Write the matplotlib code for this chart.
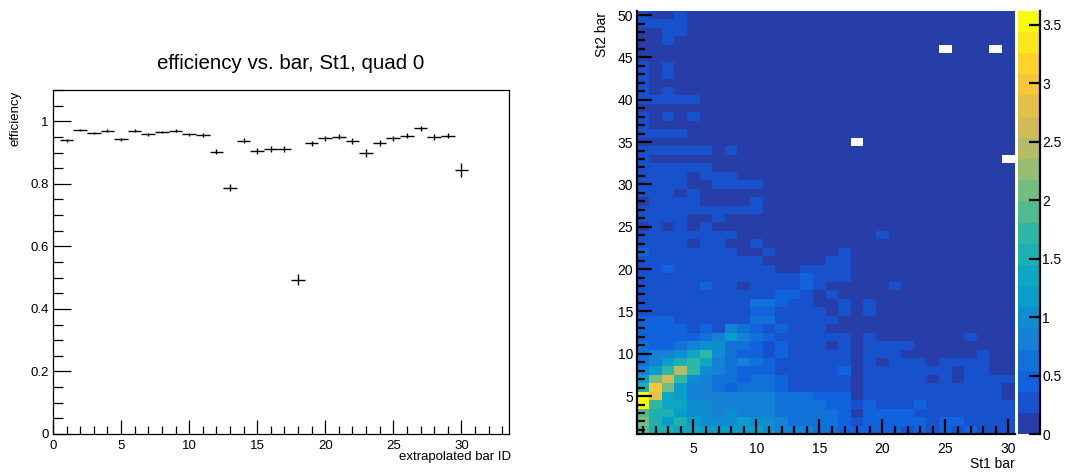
import numpy as np
import matplotlib
matplotlib.use("Agg")
import matplotlib.pyplot as plt
from matplotlib.colors import LinearSegmentedColormap, ListedColormap, BoundaryNorm
from matplotlib.ticker import MultipleLocator, FixedLocator
from matplotlib.lines import Line2D

plt.rcParams['font.family'] = ['Liberation Sans', 'DejaVu Sans']

# ---------------- left panel: efficiency vs bar ----------------
bar_ids = list(range(1, 31))
efficiency = [0.939, 0.972, 0.963, 0.970, 0.942, 0.970, 0.958, 0.965, 0.970, 0.958,
              0.956, 0.903, 0.787, 0.937, 0.904, 0.911, 0.912, 0.494, 0.929, 0.945,
              0.950, 0.936, 0.899, 0.931, 0.945, 0.954, 0.977, 0.950, 0.954, 0.844]
eff_err = [0.005, 0.004, 0.004, 0.004, 0.005, 0.004, 0.005, 0.004, 0.004, 0.005,
           0.005, 0.008, 0.011, 0.008, 0.009, 0.009, 0.009, 0.019, 0.009, 0.008,
           0.008, 0.009, 0.013, 0.009, 0.009, 0.009, 0.008, 0.009, 0.009, 0.021]
bar_halfwidth = [0.5] * 30

# ---------------- right panel: St2 bar vs St1 bar ----------------
st1_bins = list(range(1, 31))
st2_bins = list(range(1, 51))
z_max = 3.62
color_ticks = [0, 0.5, 1, 1.5, 2, 2.5, 3, 3.5]

# rows listed from St2 bar = 1 (bottom) to 50 (top); 30 St1 bars each; 0 = empty bin
occupancy = [
    [1.90, 1.54, 1.54, 1.36, 1.36, 1.18, 1.18, 1.18, 1.18, 1.18, 1.00, 0.81, 0.81, 0.81, 0.63,
     0.63, 0.45, 0.45, 0.45, 0.45, 0.45, 0.27, 0.45, 0.27, 0.45, 0.27, 0.45, 0.27, 0.27, 0.27],
    [2.08, 1.54, 1.18, 1.54, 1.18, 1.00, 1.00, 1.00, 1.18, 1.00, 1.00, 0.81, 0.63, 0.63, 0.63,
     0.63, 0.45, 0.27, 0.45, 0.45, 0.45, 0.45, 0.45, 0.27, 0.45, 0.45, 0.27, 0.27, 0.27, 0.27],
    [1.90, 1.54, 1.54, 1.18, 1.00, 1.00, 0.81, 1.00, 0.81, 0.81, 0.81, 0.63, 0.63, 0.63, 0.63,
     0.63, 0.45, 0.09, 0.45, 0.45, 0.45, 0.45, 0.27, 0.27, 0.27, 0.27, 0.27, 0.27, 0.27, 0.27],
    [3.60, 1.72, 1.36, 1.36, 1.00, 1.00, 0.81, 0.81, 0.81, 0.81, 0.81, 0.63, 0.63, 0.63, 0.63,
     0.45, 0.45, 0.27, 0.45, 0.27, 0.27, 0.27, 0.45, 0.27, 0.27, 0.27, 0.27, 0.27, 0.27, 0.27],
    [3.55, 2.80, 1.36, 1.18, 0.81, 0.81, 0.81, 0.81, 0.81, 0.81, 0.81, 0.63, 0.63, 0.63, 0.45,
     0.45, 0.45, 0.09, 0.27, 0.27, 0.27, 0.27, 0.27, 0.27, 0.27, 0.27, 0.27, 0.27, 0.27, 0.09],
    [1.54, 2.99, 2.08, 1.18, 0.81, 0.81, 0.63, 0.45, 0.63, 0.63, 0.63, 0.45, 0.27, 0.27, 0.27,
     0.27, 0.27, 0.09, 0.27, 0.27, 0.27, 0.27, 0.27, 0.27, 0.27, 0.27, 0.27, 0.27, 0.27, 0.09],
    [1.18, 2.08, 2.62, 1.72, 1.00, 0.81, 0.63, 0.63, 0.45, 0.63, 0.63, 0.45, 0.27, 0.27, 0.27,
     0.27, 0.27, 0.09, 0.27, 0.27, 0.27, 0.27, 0.27, 0.09, 0.27, 0.09, 0.27, 0.27, 0.27, 0.27],
    [0.81, 1.18, 1.72, 2.44, 1.72, 1.00, 0.81, 0.63, 0.45, 0.45, 0.45, 0.27, 0.27, 0.27, 0.27,
     0.27, 0.45, 0.09, 0.27, 0.27, 0.27, 0.27, 0.27, 0.27, 0.27, 0.09, 0.27, 0.27, 0.09, 0.09],
    [0.63, 0.81, 1.18, 1.54, 1.72, 1.36, 0.81, 0.63, 0.81, 0.63, 0.45, 0.27, 0.27, 0.27, 0.27,
     0.27, 0.27, 0.09, 0.27, 0.09, 0.27, 0.27, 0.27, 0.09, 0.27, 0.27, 0.27, 0.27, 0.09, 0.09],
    [0.63, 0.81, 0.81, 1.00, 1.36, 1.72, 1.00, 0.63, 0.45, 0.45, 0.27, 0.45, 0.27, 0.27, 0.27,
     0.27, 0.27, 0.09, 0.27, 0.27, 0.27, 0.09, 0.09, 0.09, 0.09, 0.09, 0.09, 0.27, 0.09, 0.09],
    [0.63, 0.45, 0.45, 0.63, 0.81, 1.00, 1.00, 0.63, 0.63, 0.45, 0.27, 0.45, 0.27, 0.27, 0.27,
     0.09, 0.27, 0.09, 0.27, 0.27, 0.27, 0.27, 0.09, 0.09, 0.09, 0.09, 0.09, 0.09, 0.09, 0.09],
    [0.45, 0.45, 0.45, 0.45, 0.45, 0.63, 0.81, 1.18, 0.81, 0.63, 0.45, 0.27, 0.27, 0.27, 0.27,
     0.27, 0.27, 0.09, 0.27, 0.09, 0.09, 0.09, 0.09, 0.09, 0.09, 0.09, 0.27, 0.09, 0.09, 0.09],
    [0.45, 0.45, 0.45, 0.45, 0.27, 0.45, 0.27, 0.81, 0.63, 0.45, 0.27, 0.45, 0.27, 0.27, 0.27]
    + [0.09] * 15,
    [0.45, 0.45, 0.45, 0.27, 0.27, 0.27, 0.27, 0.27, 0.27, 0.63, 0.63, 0.27, 0.27, 0.27, 0.27,
     0.27] + [0.09] * 14,
    [0.27] * 9 + [0.45, 0.45, 0.27, 0.27, 0.27, 0.27, 0.09, 0.27, 0.09, 0.27] + [0.09] * 11,
    [0.27] * 9 + [0.63, 0.63, 0.45, 0.27, 0.27, 0.09, 0.09, 0.27, 0.09, 0.27] + [0.09] * 11,
    [0.27] * 11 + [0.45, 0.45, 0.27, 0.09, 0.27] + [0.09] * 14,
    [0.27, 0.27, 0.27, 0.27, 0.27, 0.45, 0.27, 0.27, 0.09, 0.27, 0.27, 0.27, 0.27, 0.45, 0.27,
     0.09, 0.09, 0.09, 0.09, 0.09, 0.27] + [0.09] * 9,
    [0.27] * 13 + [0.45, 0.27, 0.27, 0.27] + [0.09] * 13,
    [0.27, 0.27, 0.45, 0.27, 0.27, 0.27, 0.27, 0.27, 0.27, 0.27, 0.27, 0.09, 0.09, 0.27, 0.27,
     0.27, 0.27] + [0.09] * 13,
    [0.27] * 10 + [0.09] * 5 + [0.27, 0.27] + [0.09] * 13,
    [0.45, 0.27, 0.27, 0.27, 0.27, 0.27, 0.27, 0.27, 0.09, 0.09, 0.27, 0.09, 0.09, 0.09, 0.09,
     0.09, 0.27] + [0.09] * 13,
    [0.27, 0.27, 0.27, 0.27, 0.09, 0.27, 0.27, 0.09, 0.09, 0.27] + [0.09] * 20,
    [0.27] * 8 + [0.09] * 11 + [0.27] + [0.09] * 10,
    [0.09, 0.27, 0.09, 0.27, 0.09, 0.27] + [0.09] * 24,
    [0.27] * 4 + [0.09, 0.09, 0.27] + [0.09] * 23,
    [0.27] * 10 + [0.09] * 20,
    [0.09] + [0.27] * 4 + [0.09] * 4 + [0.27] + [0.09] * 20,
    [0.27] * 3 + [0.09, 0.27] + [0.09] * 25,
    [0.27] * 4 + [0.09] * 2 + [0.27] * 4 + [0.09] * 20,
    [0.27] * 4 + [0.09] + [0.27] * 3 + [0.09] * 22,
    [0.27] * 6 + [0.09] * 24,
    [0.27] + [0.09] * 28 + [0.0],
    [0.27] * 6 + [0.09, 0.27] + [0.09] * 22,
    [0.09] * 17 + [0.0] + [0.09] * 12,
    [0.27] * 4 + [0.09] * 26,
    [0.27] + [0.09] * 29,
    [0.27, 0.09, 0.27, 0.09, 0.27] + [0.09] * 25,
    [0.09] * 30,
    [0.27] * 5 + [0.09] * 25,
    [0.27, 0.09, 0.27] + [0.09] * 27,
    [0.27] + [0.09] * 29,
    [0.27, 0.09, 0.27] + [0.09] * 27,
    [0.27, 0.09, 0.27] + [0.09] * 27,
    [0.09] * 30,
    [0.09] * 24 + [0.0] + [0.09] * 3 + [0.0, 0.09],
    [0.09, 0.09, 0.27] + [0.09] * 27,
    [0.09, 0.09, 0.27, 0.27] + [0.09] * 26,
    [0.27] * 4 + [0.09] * 26,
    [0.27, 0.09, 0.09, 0.27] + [0.09] * 26,
]

# ---------------- ROOT kBird palette, 20 contour levels ----------------
bird_stops = [0.0, 0.125, 0.25, 0.375, 0.5, 0.625, 0.75, 0.875, 1.0]
bird_r = [0.2082, 0.0592, 0.0780, 0.0232, 0.1802, 0.5301, 0.8186, 0.9956, 0.9764]
bird_g = [0.1664, 0.3599, 0.5041, 0.6419, 0.7178, 0.7492, 0.7328, 0.7862, 0.9832]
bird_b = [0.5293, 0.8684, 0.8385, 0.7914, 0.6425, 0.4662, 0.3499, 0.1968, 0.0539]
bird = LinearSegmentedColormap.from_list(
    "bird", list(zip(bird_stops, zip(bird_r, bird_g, bird_b))), N=255)
n_levels = 20
level_colors = [bird((i + 0.99) / n_levels) for i in range(n_levels)]
cmap = ListedColormap(level_colors)
cmap.set_bad("white")
norm = BoundaryNorm(np.linspace(0, z_max, n_levels + 1), n_levels)

W, H = 1068, 473
fig = plt.figure(figsize=(W / 100, H / 100), dpi=100)
fig.patch.set_facecolor("white")

def fx(px):
    return px / W

def fy(py):
    return 1 - py / H

# ---------- left axes ----------
axl = fig.add_axes([fx(53), fy(434), fx(509 - 53), (434 - 90) / H])
axl.errorbar(bar_ids, efficiency, xerr=bar_halfwidth, yerr=eff_err, fmt="none",
             ecolor="black", elinewidth=1.0, capsize=0)
axl.set_xlim(0, 33.5)
axl.set_ylim(0, 1.1)
axl.xaxis.set_major_locator(MultipleLocator(5))
axl.xaxis.set_minor_locator(MultipleLocator(1))
axl.yaxis.set_major_locator(MultipleLocator(0.2))
axl.yaxis.set_minor_locator(MultipleLocator(0.05))
axl.tick_params(which="both", direction="in", top=False, right=False, labelsize=9.5,
                width=0.9, colors="black")
axl.tick_params(axis="x", which="major", length=10, pad=4.5)
axl.tick_params(axis="x", which="minor", length=5.5)
axl.tick_params(axis="y", which="major", length=13, pad=3.2)
axl.tick_params(axis="y", which="minor", length=7)
axl.set_yticks([0, 0.2, 0.4, 0.6, 0.8, 1.0])
axl.set_yticklabels(["0", "0.2", "0.4", "0.6", "0.8", "1"])
for s in axl.spines.values():
    s.set_linewidth(0.9)
fig.text(fx(291), fy(63.5), "efficiency vs. bar, St1, quad 0", ha="center", va="center",
         fontsize=14.8)
fig.text(fx(15), fy(91), "efficiency", rotation=90, ha="center", va="top", fontsize=9.5)
fig.text(fx(511), fy(457), "extrapolated bar ID", ha="right", va="center", fontsize=9.5)

# ---------- right axes (2D histogram) ----------
axr = fig.add_axes([fx(636.6), fy(434.2), fx(1014.6 - 636.6), (434.2 - 10.8) / H])
z = np.ma.masked_equal(np.array(occupancy), 0.0)
x_edges = np.arange(len(st1_bins) + 1) + 0.5
y_edges = np.arange(len(st2_bins) + 1) + 0.5
mesh = axr.pcolormesh(x_edges, y_edges, z, cmap=cmap, norm=norm, shading="flat")
axr.set_xlim(0.5, 30.5)
axr.set_ylim(0.5, 50.5)
axr.xaxis.set_major_locator(FixedLocator([5, 10, 15, 20, 25, 30]))
axr.xaxis.set_minor_locator(MultipleLocator(1))
axr.yaxis.set_major_locator(FixedLocator([5, 10, 15, 20, 25, 30, 35, 40, 45, 50]))
axr.yaxis.set_minor_locator(MultipleLocator(1))
axr.tick_params(which="both", direction="in", top=False, right=False, labelsize=10,
                width=1.6, colors="black")
axr.tick_params(which="major", length=11)
axr.tick_params(which="minor", length=5.5)
axr.tick_params(axis="x", which="major", pad=5.5)
axr.tick_params(axis="y", which="major", pad=2.5)
axr.spines["top"].set_visible(False)
axr.spines["right"].set_visible(False)
axr.spines["left"].set_linewidth(1.6)
axr.spines["bottom"].set_linewidth(1.6)
fig.text(fx(602), fy(12), "St2 bar", rotation=90, ha="center", va="top", fontsize=10)
fig.text(fx(1015), fy(464), "St1 bar", ha="right", va="center", fontsize=10)

# ---------- colour bar ----------
cax = fig.add_axes([fx(1017.5), fy(434.2), fx(1040 - 1017.5), (434.2 - 10.8) / H])
cb = fig.colorbar(mesh, cax=cax, ticks=color_ticks)
cb.outline.set_visible(False)
cax.yaxis.set_ticks_position("right")
cax.set_yticklabels(["0", "0.5", "1", "1.5", "2", "2.5", "3", "3.5"])
cax.tick_params(which="major", direction="in", length=8, width=1.6, labelsize=10, pad=1.5)
cax.minorticks_off()
cax.add_line(Line2D([1, 1], [0, 1], transform=cax.transAxes, color="black", lw=1.6,
                    clip_on=False))

fig.savefig("out.png", dpi=100, facecolor="white")
